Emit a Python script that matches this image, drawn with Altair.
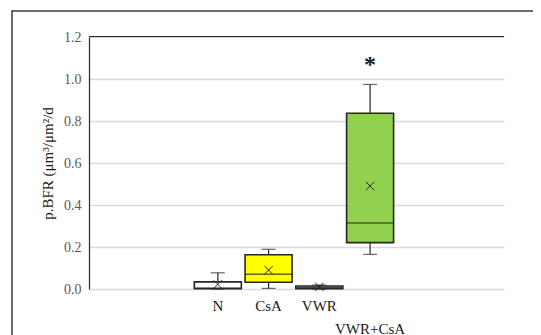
import altair as alt
import pandas as pd

categories = ["N", "CsA", "VWR", "VWR+CsA"]
positions = [0, 1, 2, 3]
whisker_low = [0.0, 0.003, 0.0, 0.165]
q1 = [0.001, 0.032, 0.002, 0.221]
median = [0.005, 0.070, 0.006, 0.314]
q3 = [0.034, 0.163, 0.014, 0.837]
whisker_high = [0.077, 0.189, 0.019, 0.974]
mean = [0.022, 0.090, 0.010, 0.490]
fills = ["#ffffff", "#ffff00", "#8eb4e3", "#92d050"]
label_row = [0, 0, 0, 1]
star_cat = ["VWR+CsA"]
star_pos = [3]
star_y = [1.088]

df = pd.DataFrame({
    "cat": categories, "pos": positions, "lo": whisker_low, "q1": q1,
    "med": median, "q3": q3, "hi": whisker_high, "mean": mean,
    "fill": fills, "row": label_row,
})
stars = pd.DataFrame({"cat": star_cat, "pos": star_pos, "y": star_y})

W, H = 415, 252
FONT = "Liberation Serif"
xs = alt.Scale(domain=[-2.44, 5.54], nice=False, zero=False)
ys = alt.Scale(domain=[0, 1.2], nice=False)
X = alt.X("pos:Q", scale=xs, axis=None)
STROKE = "#262626"

base = alt.Chart(df)

border = base.mark_rect(fill=None, stroke="#3a3a3a", strokeWidth=1.5).encode(
    x=alt.value(-77), x2=alt.value(700), y=alt.value(-26), y2=alt.value(500)
).transform_filter("datum.pos == 0")

grid = base.mark_rule(opacity=0).encode(
    x=X,
    y=alt.Y("q1:Q", scale=ys,
            axis=alt.Axis(values=[0, 0.2, 0.4, 0.6, 0.8, 1.0, 1.2], format=".1f",
                          title="p.BFR (μm³/μm²/d", grid=True, gridColor="#d9d9d9",
                          gridWidth=1.5, ticks=False, domainColor=STROKE, domainWidth=1.2,
                          labelColor="#595959", labelFont=FONT, labelFontSize=14,
                          labelPadding=8, titleFont=FONT, titleFontSize=15,
                          titleFontWeight="normal", titleColor="#1a1a1a", titlePadding=8)),
)

top_line = base.mark_rule(color=STROKE, strokeWidth=1.2).encode(
    x=alt.value(0), x2=alt.value(W), y=alt.value(-0.5)
).transform_filter("datum.pos == 0")

whisk = base.mark_rule(color=STROKE, strokeWidth=1.2).encode(
    x=X, y=alt.Y("lo:Q", scale=ys), y2="hi:Q")

caps_lo = base.mark_tick(orient="horizontal", size=14, thickness=1.2, color=STROKE).encode(
    x=X, y=alt.Y("lo:Q", scale=ys))
caps_hi = base.mark_tick(orient="horizontal", size=14, thickness=1.2, color=STROKE).encode(
    x=X, y=alt.Y("hi:Q", scale=ys))

boxes = base.mark_bar(width=47, stroke=STROKE, strokeWidth=1.6).encode(
    x=X, y=alt.Y("q1:Q", scale=ys), y2="q3:Q",
    fill=alt.Fill("fill:N", scale=None))

med = base.mark_tick(orient="horizontal", size=47, thickness=1.4, color=STROKE).encode(
    x=X, y=alt.Y("med:Q", scale=ys))

means = base.mark_point(shape="M-1,-1L1,1M-1,1L1,-1", size=70, filled=False,
                        color=STROKE, strokeWidth=1, opacity=1).encode(
    x=X, y=alt.Y("mean:Q", scale=ys))

labels1 = base.mark_text(font=FONT, fontSize=15, color="#1a1a1a", baseline="middle").encode(
    x=X, y=alt.value(H + 17), text="cat:N").transform_filter("datum.row == 0")
labels2 = base.mark_text(font=FONT, fontSize=15, color="#1a1a1a", baseline="middle").encode(
    x=X, y=alt.value(H + 40), text="cat:N").transform_filter("datum.row == 1")

star = alt.Chart(stars).mark_text(text="*", font=FONT, fontSize=24, fontWeight="bold",
                                  color="#1a1a1a", baseline="middle", dy=4).encode(
    x=X, y=alt.Y("y:Q", scale=ys))

chart = alt.layer(border, grid, top_line, whisk, caps_lo, caps_hi, boxes, med, means,
                  labels1, labels2, star).properties(
    width=W, height=H,
    autosize=alt.AutoSizeParams(type="none"),
    padding={"left": 81, "top": 29, "right": 29, "bottom": 46},
).configure_view(stroke=None)

chart.save("out.html", embed_options={"renderer": "svg", "actions": False})
